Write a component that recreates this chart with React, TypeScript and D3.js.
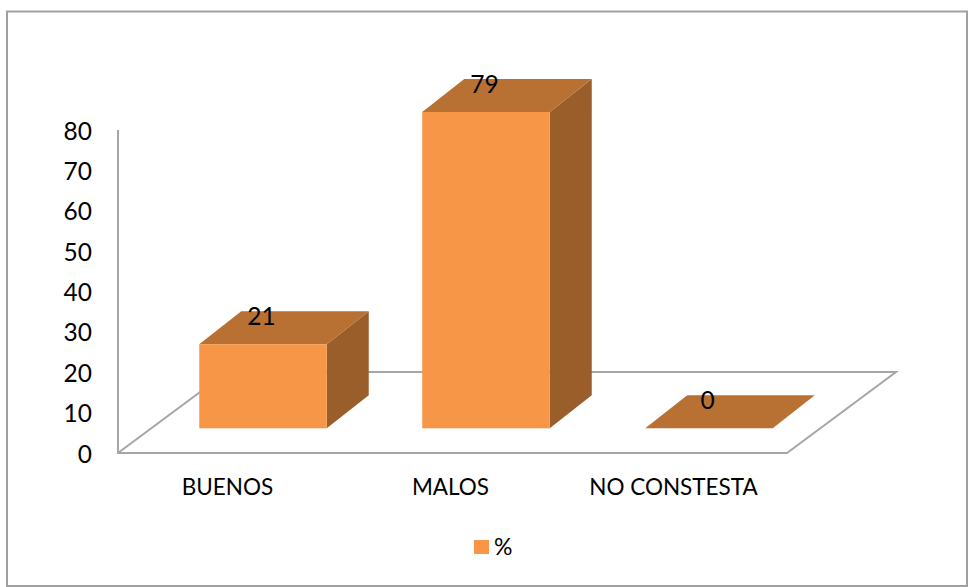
import React from "react";
import * as d3 from "d3";

const categories = ["BUENOS", "MALOS", "NO CONSTESTA"];
const values = [21, 79, 0];
const yTicks = [0, 10, 20, 30, 40, 50, 60, 70, 80];
const seriesName = "%";

const W = 968, H = 587;
const FONT = "Lato, Carlito, 'Open Sans', sans-serif";
const AXIS = "#a6a6a6";
const FRONT = "#f79646", TOP = "#b87033", SIDE = "#9a5e2b";

// Axis front plane
const x = d3.scaleBand<string>().domain(categories).range([118, 787]);
const y = d3.scaleLinear().domain([0, 80]).range([453, 130]);
// Bars stand further back on the floor, where the scale is slightly smaller
const barY = d3.scaleLinear().domain([0, 80]).range([428.3, 108]);
const floorDx = 109, floorDy = 81;
const barDx = 42, barDy = 33;
const barW = 127.5;
const barShiftX = 33.5;

const pts = (p: [number, number][]) => p.map(q => q.join(",")).join(" ");

export default function App() {
  const y0 = y(0);
  return (
    <svg width={W} height={H} viewBox={`0 0 ${W} ${H}`}
      style={{ position: "absolute", left: 0, top: 0, background: "#fff" }}>
      <rect x={7} y={11.5} width={960} height={574.5} fill="#fff" stroke="#a0a0a0" strokeWidth={2} />
      {/* floor */}
      <polyline fill="none" stroke={AXIS} strokeWidth={2}
        points={pts([[118, y(80)], [118, y0], [787, y0], [787 + floorDx, y0 - floorDy], [118 + floorDx, y0 - floorDy], [118, y0]])} />
      {/* y ticks */}
      {yTicks.map(t => (
        <text key={t} x={92} y={y(t) + 1} dy="0.35em" textAnchor="end" fontFamily={FONT} fontSize={24.5} fill="#000">{t}</text>
      ))}
      {/* bars */}
      {categories.map((c, i) => {
        const xl = x(c)! + x.bandwidth() / 2 + barShiftX - barW / 2;
        const xr = xl + barW;
        const bottom = barY(0);
        const top = barY(values[i]);
        return (
          <g key={c}>
            {values[i] > 0 && <polygon fill={SIDE} points={pts([[xr, top], [xr + barDx, top - barDy], [xr + barDx, bottom - barDy], [xr, bottom]])} />}
            <polygon fill={TOP} points={pts([[xl, top], [xl + barDx, top - barDy], [xr + barDx, top - barDy], [xr, top]])} />
            {values[i] > 0 && <rect x={xl} y={top} width={barW} height={bottom - top} fill={FRONT} />}
            <text x={xl + barW / 2 - 1.5} y={top - barDy + 5} dy="0.35em" textAnchor="middle" fontFamily={FONT} fontSize={24.5} fill="#000">{values[i]}</text>
          </g>
        );
      })}
      {/* category labels */}
      {categories.map(c => (
        <text key={c} x={x(c)! + x.bandwidth() / 2 - 2} y={487} dy="0.35em" textAnchor="middle" fontFamily={FONT} fontSize={22.5} fill="#000">{c}</text>
      ))}
      {/* legend */}
      <rect x={474} y={540} width={15} height={14} fill={FRONT} />
      <text x={494} y={547} dy="0.35em" fontFamily={FONT} fontSize={23} fill="#000">{seriesName}</text>
    </svg>
  );
}
